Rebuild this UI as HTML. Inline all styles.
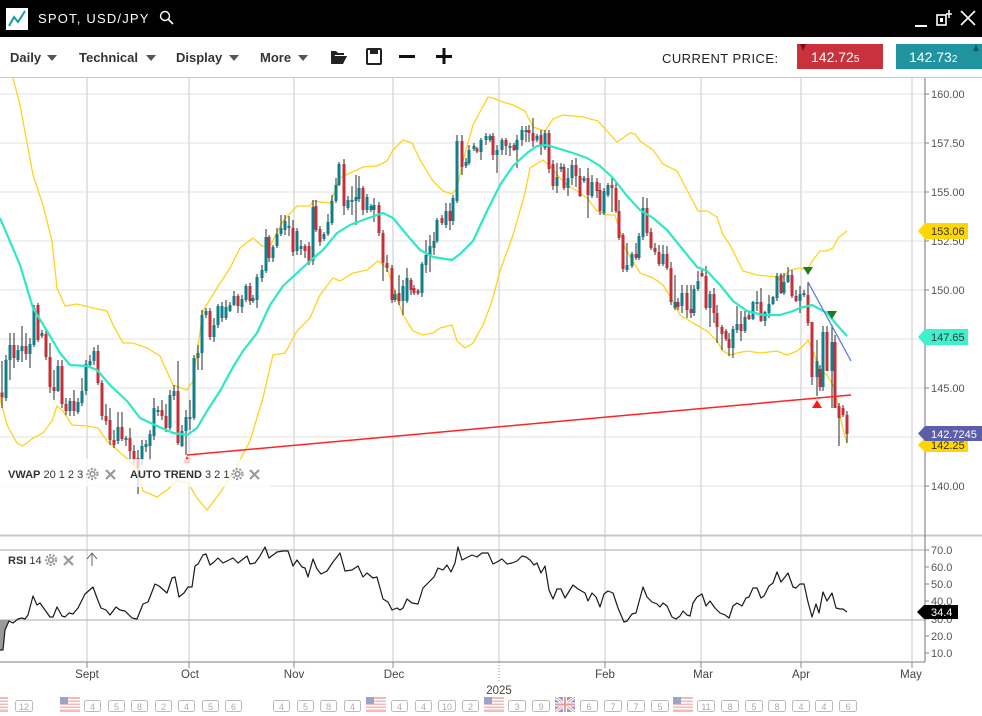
<!DOCTYPE html>
<html><head><meta charset="utf-8"><style>
html,body{margin:0;padding:0;background:#fff;width:982px;height:716px;overflow:hidden}
svg{display:block}
text{font-family:"Liberation Sans",Arial,sans-serif}
</style></head><body>
<svg width="982" height="716" viewBox="0 0 982 716" xmlns="http://www.w3.org/2000/svg">
<defs><clipPath id="mc"><rect x="0" y="78" width="925" height="456"/></clipPath></defs>
<rect x="0" y="0" width="982" height="716" fill="#fff"/>
<!-- title bar -->
<rect x="0" y="0" width="982" height="37" fill="#000"/>
<rect x="6" y="8" width="22" height="22" fill="#fff"/>
<polyline points="9,26 14,17 18,22 25,11" fill="none" stroke="#1a9aa5" stroke-width="2"/>
<text x="38" y="23" fill="#fff" font-size="13" letter-spacing="1.2">SPOT, USD/JPY</text>
<circle cx="165" cy="16" r="4.5" fill="none" stroke="#fff" stroke-width="1.4"/>
<line x1="168" y1="19" x2="173" y2="24" stroke="#fff" stroke-width="1.6"/>
<line x1="915" y1="26" x2="927" y2="26" stroke="#fff" stroke-width="2"/>
<rect x="937" y="15" width="9" height="10" fill="none" stroke="#fff" stroke-width="1.6"/>
<rect x="940" y="18" width="3" height="4" fill="#fff"/>
<line x1="949" y1="10" x2="949" y2="18" stroke="#fff" stroke-width="1.5"/>
<line x1="946" y1="14" x2="952" y2="14" stroke="#fff" stroke-width="1.5"/>
<line x1="961" y1="11" x2="975" y2="25" stroke="#fff" stroke-width="1.6"/>
<line x1="975" y1="11" x2="961" y2="25" stroke="#fff" stroke-width="1.6"/>
<!-- toolbar -->
<g fill="#333" font-size="13" font-weight="bold">
<text x="10" y="62">Daily</text><text x="79" y="62">Technical</text><text x="176" y="62">Display</text><text x="260" y="62">More</text>
</g>
<g fill="#555">
<polygon points="47,55 57,55 52,61"/><polygon points="146,55 156,55 151,61"/><polygon points="229,55 239,55 234,61"/><polygon points="298,55 308,55 303,61"/>
</g>
<path d="M331 51h5l2 2h6v2h-9l-4 9z" fill="#222"/><path d="M334 56h13l-4 8h-12z" fill="#222"/>
<rect x="367" y="49" width="14" height="15" rx="1" fill="none" stroke="#222" stroke-width="2"/>
<rect x="370" y="49" width="8" height="5" fill="#222"/>
<rect x="399" y="55" width="16" height="3" fill="#111"/>
<rect x="436" y="55" width="16" height="3" fill="#111"/><rect x="442.5" y="48" width="3" height="16" fill="#111"/>
<text x="662" y="63" fill="#222" font-size="13" letter-spacing="0.45">CURRENT PRICE:</text>
<rect x="797" y="44" width="86" height="25" fill="#c9323c"/>
<polygon points="800,44 806,44 803,51" fill="#7a1018"/>
<text x="811" y="62" fill="#fff" font-size="14">142.72<tspan font-size="10">5</tspan></text>
<rect x="896" y="44" width="86" height="25" fill="#1f949e"/>
<polygon points="973,51 979,51 976,44" fill="#0c5a60"/>
<text x="909" y="62" fill="#fff" font-size="14">142.73<tspan font-size="10">2</tspan></text>
<line x1="0" y1="77.5" x2="982" y2="77.5" stroke="#c8c8c8" stroke-width="1"/>
<!-- gridlines -->
<g stroke="#ececec" stroke-width="1.5">
<line x1="0" y1="94" x2="925" y2="94"/><line x1="0" y1="143" x2="925" y2="143"/><line x1="0" y1="192" x2="925" y2="192"/><line x1="0" y1="241" x2="925" y2="241"/><line x1="0" y1="290" x2="925" y2="290"/><line x1="0" y1="339" x2="925" y2="339"/><line x1="0" y1="388" x2="925" y2="388"/><line x1="0" y1="437" x2="925" y2="437"/><line x1="0" y1="486" x2="925" y2="486"/>
</g>
<g stroke="#dcdcdc" stroke-width="1.5">
<line x1="87" y1="78" x2="87" y2="662"/><line x1="189" y1="78" x2="189" y2="662"/><line x1="294" y1="78" x2="294" y2="662"/><line x1="393" y1="78" x2="393" y2="662"/><line x1="499" y1="78" x2="499" y2="662"/><line x1="605" y1="78" x2="605" y2="662"/><line x1="701" y1="78" x2="701" y2="662"/><line x1="801" y1="78" x2="801" y2="662"/><line x1="912" y1="78" x2="912" y2="662"/>
</g>
<g clip-path="url(#mc)">
<!-- bollinger -->
<polyline fill="none" stroke="#ffd21e" stroke-width="1.3" points="13,78 20,105 33,175 43,205 52,241 57,288 65,306 77,304 93,308 107,311 113,325 123,343 133,343 147,348 160,356 173,385 187,390 193,381 203,311 217,288 230,268 240,248 253,238 262,246 270,246 283,221 297,206 310,206 313,201 330,203 340,178 350,173 363,167 377,166 387,161 393,150 403,140 412,143 420,160 433,181 443,191 452,194 457,188 463,161 473,125 488,97 493,98 500,101 513,105 525,111 533,127 545,131 553,119 563,115 583,117 598,121 607,131 617,142 630,133 635,134 640,141 653,150 663,164 677,171 687,190 698,211 707,211 717,217 723,235 730,245 743,271 757,275 777,277 780,280 790,270 800,268 807,270 813,260 820,251 827,251 833,248 838,238 847,231"/>
<polyline fill="none" stroke="#ffd21e" stroke-width="1.3" points="0,398 7,425 17,443 23,446 33,438 43,433 52,421 57,406 63,411 72,425 87,426 98,428 107,441 123,455 137,468 143,491 157,497 167,490 177,481 188,483 197,498 207,510 220,493 233,473 250,441 263,398 273,355 285,353 297,331 310,318 320,295 333,278 340,281 353,273 367,270 378,261 387,268 397,298 403,315 413,331 423,335 433,333 440,328 452,325 457,341 465,348 473,343 483,325 492,301 500,271 513,235 525,193 530,168 543,160 552,168 560,178 567,185 577,191 587,198 597,211 607,215 615,215 620,231 625,248 640,273 653,278 663,285 673,301 680,315 693,323 707,331 717,341 723,351 730,355 737,353 747,351 760,353 777,351 787,355 797,351 803,346 808,340 813,351 820,371 827,375 833,385 837,401 842,425 847,443"/>
<!-- wicks -->
<path fill="none" stroke="#2a2a2a" stroke-width="1" d="M2 361V408M6 355V401M10 333V380M14 333V368M18 345V362M22 326V362M26 333V360M30 338V368M34 305V347M38 303V342M42 330V338M46 330V360M50 343V393M54 370V400M58 360V392M62 360V408M66 398V415M70 398V416M74 390V416M78 398V414M82 378V406M86 360V395M90 355V367M94 347V365M98 345V385M102 380V420M106 404V425M110 408V445M114 430V448M118 412V444M122 412V441M126 436V446M130 428V460M134 445V465M138 450V494M142 440V465M146 440V452M150 430V460M154 398V440M158 406V416M162 400V420M166 404V432M170 390V430M174 385V400M178 361V445M182 425V447M186 410V455M190 400V430M194 355V420M198 345V370M202 310V370M206 308V318M210 308V340M214 318V342M218 304V328M222 302V322M226 300V320M230 302V312M234 291V306M238 294V313M242 295V313M246 284V302M250 283V305M253 295V303M257 274V308M262 265V282M266 229V273M269 235V262M273 245V262M277 228V248M281 215V236M285 215V235M289 216V236M293 220V256M297 228V255M301 240V255M305 244V258M309 242V265M313 200V265M316 200V232M320 226V246M324 232V241M328 214V236M332 195V225M336 178V203M339 162V186M344 159V215M348 196V210M352 186V215M356 175V225M359 176V202M363 186V215M367 194V213M371 204V212M374 198V222M379 202V236M383 230V281M387 255V272M392 265V303M395 290V302M399 275V305M403 280V315M407 268V303M411 278V295M414 285V295M418 289V295M422 262V297M426 240V273M430 235V272M434 232V255M437 218V243M442 215V225M446 203V228M450 203V230M453 195V225M457 135V203M462 135V175M466 158V168M469 145V165M474 143V151M477 147V153M481 138V160M486 133V145M490 134V142M493 133V160M497 145V173M502 138V155M506 138V155M510 143V156M514 143V151M517 135V168M522 126V146M526 126V142M529 125V142M533 118V147M537 134V142M541 130V155M545 130V150M549 130V173M553 160V190M557 163V193M561 163V172M564 164V190M568 168V196M572 160V185M576 158V187M580 168V197M584 176V183M588 168V218M592 175V198M597 178V198M600 183V215M604 188V215M608 183V197M612 178V212M616 183V213M619 200V240M623 233V272M627 243V272M632 252V268M636 243V260M639 233V260M643 197V240M647 198V236M651 228V250M655 243V255M659 245V266M663 245V266M667 246V270M671 262V305M675 275V310M678 298V310M682 285V313M687 285V318M691 285V318M694 285V316M698 271V291M702 270V277M706 266V310M710 291V327M714 288V323M717 305V343M722 325V350M726 329V341M729 333V356M733 326V358M737 306V333M741 311V341M745 311V333M749 311V320M753 301V320M757 291V311M761 288V322M765 311V326M769 295V318M773 296V305M777 273V301M781 273V294M784 273V295M788 267V283M792 270V298M796 290V302M800 286V313M804 290V297M808 282V326M812 322V385M817 340V396M820 365V391M823 326V391M827 326V371M832 325V408M835 335V408M839 403V446M843 405V417M847 411V443"/>
<!-- red bodies -->
<path fill="none" stroke="#c4303a" stroke-width="3" d="M2 392.5V397.5M14 345V358M26 346V354M38 305V340M46 334V357M50 357V387M54 387V391M62 366V404M66 404V411M74 401V411M98 351V383M102 383V416M106 416V421M110 420V440M114 440V445M122 427V439M130 438V451M134 451V460M138 458V468M162 410V416M166 416V428M178 391V443M210 311V337M238 296V306M250 286V301M269 237V258M293 228V252M305 246V251M309 246V263M316 206V230M320 229V242M344 164V206M363 188V210M379 205V233M383 233V263M387 263V268M392 268V300M399 293V301M411 280V290M414 288V293M418 290.5V293.5M442 218V223M450 211V221M462 141V167M477 148.5V151.5M493 136V155M506 140V146M514 145V150M529 130V133M533 133V141M541 135V146M549 133V169M553 164V186M564 167V188M576 165V176M580 176V196M588 178V195M597 182V191M600 190V211M612 185V188M616 188V211M619 211V238M623 235V269M636 254V258M647 208V233M651 232V248M655 248V252M659 252V264M667 254V268M671 268V302M678 302V307M687 293V310M691 309V313M702 273V276M706 276V308M714 294V313M717 313V327M722 327V334M726 331V339M729 339V348M741 324V331M749 315V319M761 302V321M781 275V293M792 275V296M796 296V301M808 295V323M812 322V377M820 369V387M827 332V371M835 342V408M839 406V418M843 408V415M847 415V434"/>
<!-- teal bodies -->
<path fill="none" stroke="#0f7f8c" stroke-width="3" d="M6 360V398M10 345V360M18 350V360M22 346V351M30 344V354M34 308V345M42 333V336M58 366V391M70 401V411M78 402V412M82 391V403M86 364V391M90 361V365M94 351V361M118 427V441M126 438V440M142 446V460M146 444V447M150 434V446M154 408V436M158 410V412M170 395V428M174 391V396M182 431V446M186 417V431M190 417V419M194 358V418M198 353V358M202 315V353M206 311V315M214 325V337M218 306V325M222 306V318M226 307V318M230 305V311M234 296V305M242 299V307M246 286V300M253 298V301M257 277V300M262 270V278M266 237V271M273 247V258M277 234V246M281 228V234M285 221V230M289 226V228M297 231V251M301 246V249M313 207V261M324 234V239M328 222V234M332 201V223M336 185V201M339 164V185M348 200V208M352 200V202M356 197V201M359 188V199M367 197V210M371 206V210M374 205V210M395 294V300M403 286V301M407 278V301M422 264V293M426 255V265M430 246V255M434 241V248M437 220V241M446 211V225M453 198V221M457 141V201M466 162V166M469 150V163M474 146V149M481 140V152M486 136V140M490 136V140M497 150V155M502 140V150M510 146V148M517 140V150M522 130V140M526 130V132M537 136V140M545 133V148M557 177V186M561 167V169M568 178V188M572 165V178M584 178V181M592 182V196M604 191V213M608 185V195M627 265V270M632 254V266M639 236V258M643 208V237M663 254V264M675 302V308M682 293V306M694 289V313M698 281V289M710 294V308M733 329V348M737 324V330M745 317V331M753 302V319M757 302V304M765 312V321M769 304V313M773 297V304M777 276V298M784 282V293M788 275V282M800 294V301M804 293V295M817 361V377M823 332V387M832 342V371"/>
<!-- MA -->
<polyline fill="none" stroke="#2de8c4" stroke-width="2.2" stroke-linejoin="round" points="0,218 20,265 33,308 47,331 60,353 70,365 87,366 97,370 110,385 127,401 140,418 157,426 173,433 187,435 197,428 207,411 220,391 233,367 243,351 257,333 270,305 283,286 297,273 310,261 323,250 337,233 350,225 363,220 377,215 383,213 393,218 407,235 420,250 433,257 452,260 460,254 473,241 487,211 500,185 513,166 527,153 537,146 547,145 560,149 573,153 587,158 600,166 613,178 627,196 640,210 653,218 667,230 680,246 697,267 707,271 720,285 733,301 747,311 763,315 780,315 793,311 800,308 812,305 827,313 837,325 847,336"/>
<!-- trend lines -->
<line x1="187" y1="455" x2="851" y2="395" stroke="#ff2424" stroke-width="1.5"/>
<line x1="808" y1="282" x2="851" y2="361" stroke="#5b78e0" stroke-width="1.3"/>
<polygon points="803,267 813,267 808,275" fill="#1a7f1a"/>
<polygon points="827,311 837,311 832,319" fill="#1a7f1a"/>
<polygon points="812,408 822,408 817,400" fill="#ff1a1a"/>
<polygon points="183,463 191,463 187,456" fill="#ff3030"/>
<!-- legend overlay -->
<rect x="0" y="459" width="270" height="28" fill="#fff" fill-opacity="0.75"/>
</g>
<text x="8" y="478" font-size="11" fill="#333"><tspan font-weight="bold">VWAP</tspan> 20 1 2 3</text>
<g fill="#999" stroke="#999">
<circle cx="92.5" cy="474" r="3.2" stroke="none"/><circle cx="92.5" cy="474" r="5" fill="none" stroke-width="2.2" stroke-dasharray="2 1.6"/>
<circle cx="237.5" cy="474" r="3.2" stroke="none"/><circle cx="237.5" cy="474" r="5" fill="none" stroke-width="2.2" stroke-dasharray="2 1.6"/>
<circle cx="51" cy="560" r="3.2" stroke="none"/><circle cx="51" cy="560" r="5" fill="none" stroke-width="2.2" stroke-dasharray="2 1.6"/>
</g>
<g fill="#fff"><circle cx="92.5" cy="474" r="1.5"/><circle cx="237.5" cy="474" r="1.5"/><circle cx="51" cy="560" r="1.5"/></g>
<g stroke="#999" stroke-width="2.2">
<line x1="106" y1="470" x2="115" y2="479"/><line x1="115" y1="470" x2="106" y2="479"/>
<line x1="250" y1="470" x2="259" y2="479"/><line x1="259" y1="470" x2="250" y2="479"/>
<line x1="64" y1="556" x2="73" y2="565"/><line x1="73" y1="556" x2="64" y2="565"/>
</g>
<text x="130" y="478" font-size="11" fill="#333"><tspan font-weight="bold">AUTO TREND</tspan> 3 2 1</text>
<!-- pane separator -->
<rect x="0" y="534.5" width="982" height="2" fill="#c8c8c8"/>
<!-- RSI pane -->
<line x1="0" y1="550" x2="925" y2="550" stroke="#aaa" stroke-width="1"/>
<line x1="0" y1="620" x2="925" y2="620" stroke="#aaa" stroke-width="1"/>
<polygon points="0,620 9,620 5,630 3,650 0,650" fill="#999"/>
<polyline fill="none" stroke="#1a1a1a" stroke-width="1.2" stroke-linejoin="round" points="0,650 3,650 5,630 9,621 13,623 18,619 22,618 25,619 28,615 33,596 37,605 40,603 45,610 50,617 53,617 57,607 62,616 65,617 69,613 73,614 78,608 85,594 93,587 97,598 101,608 106,610 110,615 116,607 120,610 125,611 132,618 137,619 143,604 148,602 155,584 159,586 167,593 172,578 175,577 179,597 184,593 188,587 192,587 195,566 198,564 203,555 206,554 210,565 214,562 218,558 223,563 227,561 233,558 238,563 247,556 250,564 255,563 260,556 265,547 269,558 277,552 283,551 288,551 293,566 297,560 302,567 305,568 308,577 313,559 317,569 321,574 327,571 333,562 340,553 345,571 352,570 358,566 363,577 367,573 373,578 377,577 383,599 388,602 392,610 397,608 400,610 403,608 407,599 412,603 418,604 423,588 428,583 434,577 438,568 443,570 447,565 451,572 455,563 458,547 462,560 466,558 472,555 477,557 482,553 488,553 493,564 497,562 502,559 507,564 512,563 517,561 522,556 526,557 530,560 534,565 537,563 541,573 545,566 549,590 553,599 557,589 561,589 565,598 573,585 578,589 585,593 588,601 592,593 596,597 600,607 604,594 608,591 613,593 618,608 624,622 627,621 632,614 636,613 643,587 647,597 652,602 657,604 660,607 663,603 667,606 672,617 676,619 680,616 683,611 687,615 690,616 693,603 697,597 702,594 706,606 710,601 715,608 720,613 725,615 729,618 733,606 737,603 742,606 746,598 749,597 753,588 757,588 761,598 764,596 769,586 773,583 777,572 781,582 785,577 788,573 793,587 796,588 800,584 804,584 808,602 812,617 816,604 819,613 823,592 827,601 832,593 836,608 840,609 843,609 847,612"/>
<text x="8" y="564" font-size="11" fill="#333"><tspan font-weight="bold">RSI</tspan> 14</text>
<g stroke="#666" stroke-width="1" fill="none"><line x1="92" y1="554" x2="92" y2="566"/><polyline points="87,559 92,553 97,559"/></g>
<!-- axes -->
<line x1="0" y1="662" x2="925" y2="662" stroke="#999" stroke-width="1.2"/>
<line x1="925" y1="78" x2="925" y2="662" stroke="#888" stroke-width="1.2"/>
<g stroke="#888" stroke-width="1">
<line x1="925" y1="94" x2="929" y2="94"/><line x1="925" y1="143" x2="929" y2="143"/><line x1="925" y1="192" x2="929" y2="192"/><line x1="925" y1="241" x2="929" y2="241"/><line x1="925" y1="290" x2="929" y2="290"/><line x1="925" y1="339" x2="929" y2="339"/><line x1="925" y1="388" x2="929" y2="388"/><line x1="925" y1="437" x2="929" y2="437"/><line x1="925" y1="486" x2="929" y2="486"/>
<line x1="925" y1="550" x2="929" y2="550"/><line x1="925" y1="567" x2="929" y2="567"/><line x1="925" y1="584" x2="929" y2="584"/><line x1="925" y1="601" x2="929" y2="601"/><line x1="925" y1="619" x2="929" y2="619"/><line x1="925" y1="636" x2="929" y2="636"/><line x1="925" y1="653" x2="929" y2="653"/>
<line x1="87" y1="662" x2="87" y2="668"/><line x1="189" y1="662" x2="189" y2="668"/><line x1="294" y1="662" x2="294" y2="668"/><line x1="393" y1="662" x2="393" y2="668"/><line x1="605" y1="662" x2="605" y2="668"/><line x1="701" y1="662" x2="701" y2="668"/><line x1="801" y1="662" x2="801" y2="668"/><line x1="912" y1="662" x2="912" y2="668"/>
</g>
<line x1="499" y1="662" x2="499" y2="682" stroke="#888" stroke-width="1" stroke-dasharray="1 2"/>
<g font-size="11" fill="#555">
<text x="931" y="98">160.00</text><text x="931" y="147">157.50</text><text x="931" y="196">155.00</text><text x="931" y="245">152.50</text><text x="931" y="294">150.00</text><text x="931" y="343">147.50</text><text x="931" y="392">145.00</text><text x="931" y="441">142.50</text><text x="931" y="490">140.00</text>
<text x="931" y="554">70.0</text><text x="931" y="571">60.0</text><text x="931" y="588">50.0</text><text x="931" y="605">40.0</text><text x="931" y="623">30.0</text><text x="931" y="640">20.0</text><text x="931" y="657">10.0</text>
</g>
<g font-size="11.5" fill="#444" text-anchor="middle">
<text x="87" y="678">Sept</text><text x="190" y="678">Oct</text><text x="294" y="678">Nov</text><text x="394" y="678">Dec</text><text x="605" y="678">Feb</text><text x="703" y="678">Mar</text><text x="801" y="678">Apr</text><text x="911" y="678">May</text><text x="499" y="694">2025</text>
</g>
<!-- price tags -->
<path d="M918 231L925 223H968V239H925Z" fill="#ffd600"/><text x="931" y="235" font-size="11" fill="#333">153.06</text>
<path d="M918 337L925 329H968V345H925Z" fill="#3ff0cc"/><text x="931" y="341" font-size="11" fill="#333">147.65</text>
<path d="M918 445L925 438H968V452H925Z" fill="#ffd600"/><text x="931" y="449" font-size="11" fill="#333">142.25</text>
<path d="M918 433.5L925 426H982V441H925Z" fill="#5d5ea8"/><text x="931" y="438" font-size="11" fill="#fff">142.7245</text>
<path d="M917 612L924 605H958V619H924Z" fill="#000"/><text x="931" y="616" font-size="11" fill="#fff">34.4</text>
<!-- event row -->
<g fill="#f4b8b8"><rect x="0" y="697" width="8" height="15"/></g>
<g fill="#fff"><rect x="0" y="699" width="8" height="1.5"/><rect x="0" y="702" width="8" height="1.5"/><rect x="0" y="705" width="8" height="1.5"/><rect x="0" y="708" width="8" height="1.5"/></g>
<g>
<g transform="translate(60,697)"><rect width="20" height="15" fill="#f4b8b8"/><g fill="#fff"><rect y="2" width="20" height="1.5"/><rect y="5" width="20" height="1.5"/><rect y="8" width="20" height="1.5"/><rect y="11" width="20" height="1.5"/></g><rect width="8" height="7" fill="#9aa3c8"/></g>
<g transform="translate(366,697)"><rect width="20" height="15" fill="#f4b8b8"/><g fill="#fff"><rect y="2" width="20" height="1.5"/><rect y="5" width="20" height="1.5"/><rect y="8" width="20" height="1.5"/><rect y="11" width="20" height="1.5"/></g><rect width="8" height="7" fill="#9aa3c8"/></g>
<g transform="translate(484,697)"><rect width="20" height="15" fill="#f4b8b8"/><g fill="#fff"><rect y="2" width="20" height="1.5"/><rect y="5" width="20" height="1.5"/><rect y="8" width="20" height="1.5"/><rect y="11" width="20" height="1.5"/></g><rect width="8" height="7" fill="#9aa3c8"/></g>
<g transform="translate(673,697)"><rect width="20" height="15" fill="#f4b8b8"/><g fill="#fff"><rect y="2" width="20" height="1.5"/><rect y="5" width="20" height="1.5"/><rect y="8" width="20" height="1.5"/><rect y="11" width="20" height="1.5"/></g><rect width="8" height="7" fill="#9aa3c8"/></g>
<g transform="translate(555,697)"><rect width="20" height="15" fill="#8f9ccc"/><path d="M0 0L20 15M20 0L0 15" stroke="#fff" stroke-width="3"/><path d="M0 0L20 15M20 0L0 15" stroke="#e89a9a" stroke-width="1"/><path d="M10 0V15M0 7.5H20" stroke="#fff" stroke-width="4"/><path d="M10 0V15M0 7.5H20" stroke="#e89a9a" stroke-width="2"/></g>
</g>
<g fill="none" stroke="#bbb" stroke-width="1">
<rect x="15.5" y="700.5" width="17" height="11" rx="2"/>
<rect x="84.5" y="700.5" width="16" height="11" rx="2"/><rect x="108.5" y="700.5" width="16" height="11" rx="2"/><rect x="131.5" y="700.5" width="16" height="11" rx="2"/><rect x="155.5" y="700.5" width="16" height="11" rx="2"/><rect x="178.5" y="700.5" width="16" height="11" rx="2"/><rect x="202.5" y="700.5" width="16" height="11" rx="2"/><rect x="225.5" y="700.5" width="16" height="11" rx="2"/>
<rect x="273.5" y="700.5" width="16" height="11" rx="2"/><rect x="297.5" y="700.5" width="16" height="11" rx="2"/><rect x="320.5" y="700.5" width="16" height="11" rx="2"/><rect x="344.5" y="700.5" width="16" height="11" rx="2"/>
<rect x="391.5" y="700.5" width="16" height="11" rx="2"/><rect x="415.5" y="700.5" width="16" height="11" rx="2"/><rect x="438.5" y="700.5" width="17" height="11" rx="2"/><rect x="462.5" y="700.5" width="16" height="11" rx="2"/>
<rect x="508.5" y="700.5" width="17" height="11" rx="2"/><rect x="532.5" y="700.5" width="17" height="11" rx="2"/>
<rect x="580.5" y="700.5" width="17" height="11" rx="2"/><rect x="604.5" y="700.5" width="17" height="11" rx="2"/><rect x="627.5" y="700.5" width="17" height="11" rx="2"/><rect x="651.5" y="700.5" width="17" height="11" rx="2"/>
<rect x="697.5" y="700.5" width="17" height="11" rx="2"/><rect x="721.5" y="700.5" width="17" height="11" rx="2"/><rect x="745.5" y="700.5" width="17" height="11" rx="2"/><rect x="768.5" y="700.5" width="17" height="11" rx="2"/><rect x="792.5" y="700.5" width="17" height="11" rx="2"/><rect x="815.5" y="700.5" width="17" height="11" rx="2"/><rect x="839.5" y="700.5" width="17" height="11" rx="2"/>
</g>
<g font-size="9" fill="#aaa" text-anchor="middle">
<text x="24" y="710">12</text>
<text x="92.5" y="710">4</text><text x="116.5" y="710">5</text><text x="139.5" y="710">8</text><text x="163.5" y="710">2</text><text x="186.5" y="710">4</text><text x="210.5" y="710">5</text><text x="233.5" y="710">6</text>
<text x="281.5" y="710">4</text><text x="305.5" y="710">5</text><text x="328.5" y="710">8</text><text x="352.5" y="710">4</text>
<text x="399.5" y="710">4</text><text x="423.5" y="710">4</text><text x="447" y="710">10</text><text x="470.5" y="710">2</text>
<text x="517" y="710">3</text><text x="541" y="710">9</text>
<text x="589" y="710">6</text><text x="613" y="710">7</text><text x="636" y="710">7</text><text x="660" y="710">5</text>
<text x="706" y="710">11</text><text x="730" y="710">8</text><text x="754" y="710">5</text><text x="777" y="710">8</text><text x="801" y="710">4</text><text x="824" y="710">4</text><text x="848" y="710">6</text>
</g>
</svg>
</body></html>
